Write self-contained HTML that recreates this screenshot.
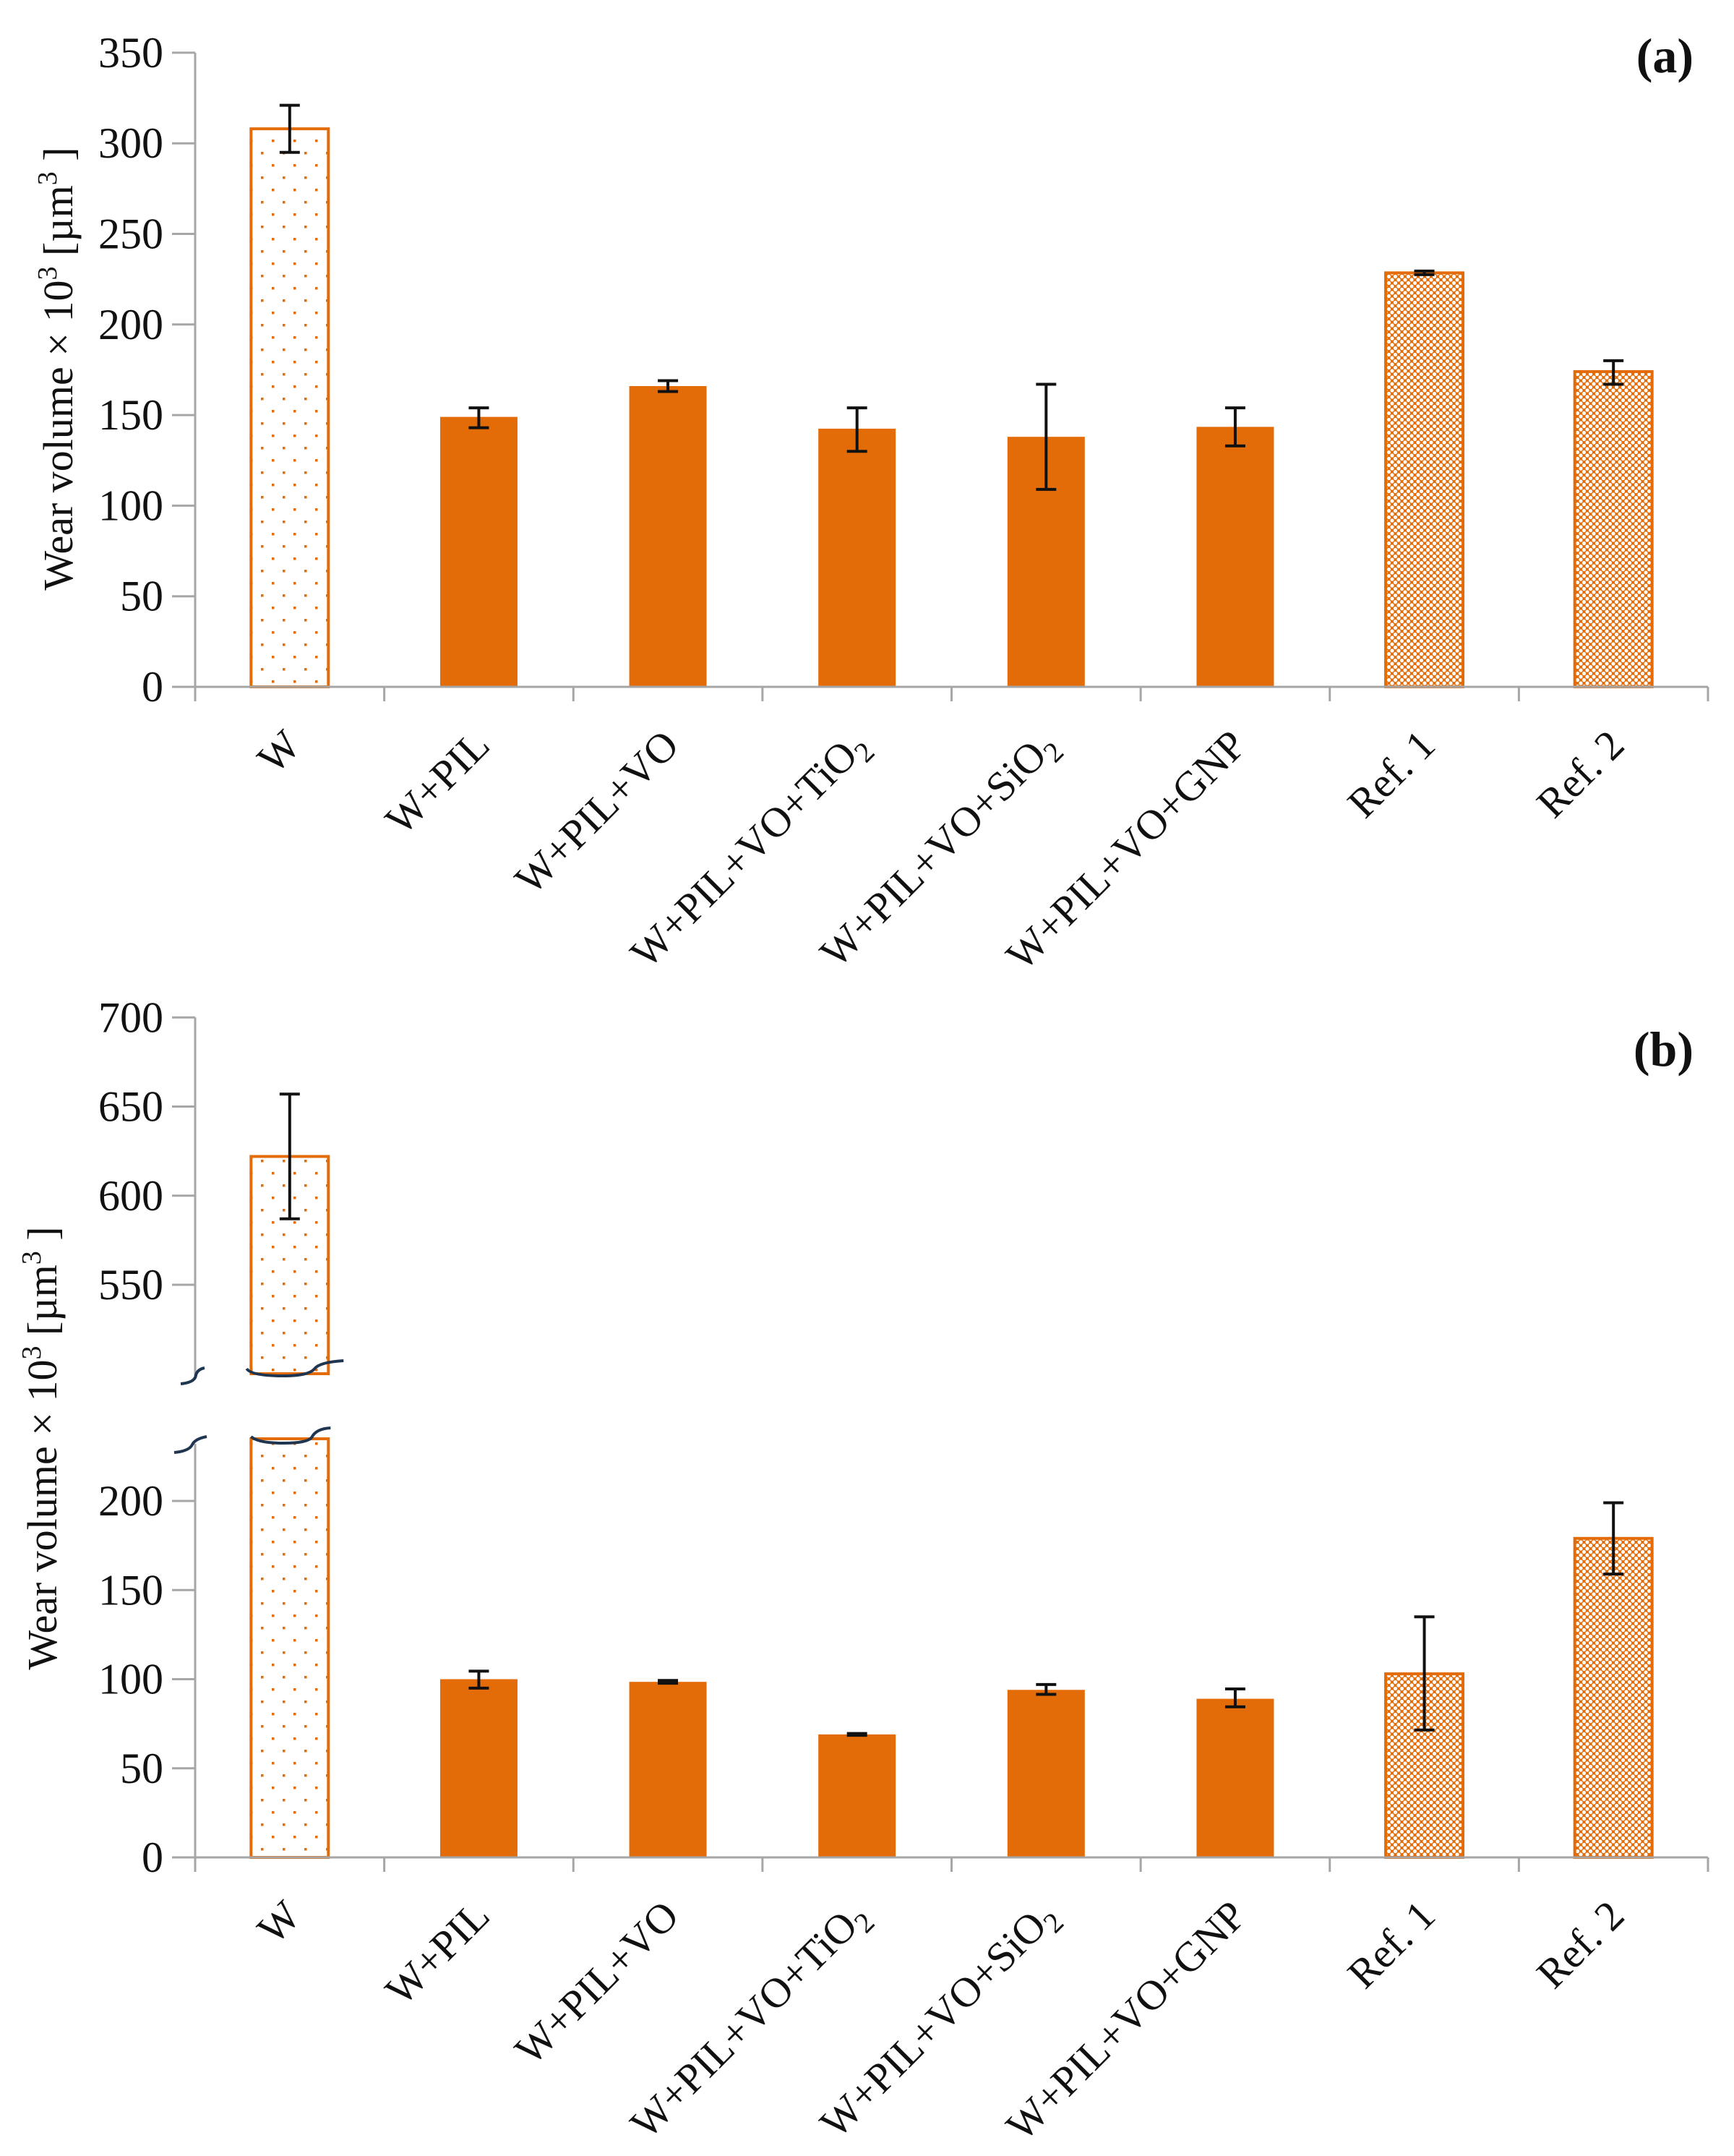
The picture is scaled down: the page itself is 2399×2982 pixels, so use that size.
<!DOCTYPE html>
<html><head><meta charset="utf-8"><style>
html,body{margin:0;padding:0;background:#fff;}
svg{display:block;}
text{font-family:"Liberation Serif",serif;fill:#111;}
</style></head><body>
<svg id="chart" width="2399" height="2982" viewBox="0 0 2399 2982" xmlns="http://www.w3.org/2000/svg">
<defs>
<pattern id="dots" patternUnits="userSpaceOnUse" width="30" height="34" x="355" y="0">
<rect width="30" height="34" fill="#fff"/>
<rect x="6" y="6" width="3.5" height="3.5" fill="#e36c09"/>
<rect x="21" y="23" width="3.5" height="3.5" fill="#e36c09"/>
</pattern>
<pattern id="hatch" patternUnits="userSpaceOnUse" width="9" height="9">
<rect width="9" height="9" fill="#e36c09"/>
<circle cx="0" cy="0" r="2.6" fill="#fff"/>
<circle cx="9" cy="0" r="2.6" fill="#fff"/>
<circle cx="0" cy="9" r="2.6" fill="#fff"/>
<circle cx="9" cy="9" r="2.6" fill="#fff"/>
<circle cx="4.5" cy="4.5" r="2.6" fill="#fff"/>
</pattern>
</defs>
<g id="gA"></g>
<g id="gB"></g>
</svg>
<script>
const categories = ["W","W+PIL","W+PIL+VO","W+PIL+VO+TiO2","W+PIL+VO+SiO2","W+PIL+VO+GNP","Ref. 1","Ref. 2"];
const fills = ["dots","solid","solid","solid","solid","solid","hatch","hatch"];
const valuesA = [308, 149, 166, 142.5, 138, 143.5, 228.5, 174];
const errHiA = [321, 154, 169, 154, 167, 154, 229.5, 180];
const errLoA = [295, 143, 163, 130, 109, 133, 227.5, 167];
const ticksA = [0,50,100,150,200,250,300,350];
const valuesB = [622, 100, 98.5, 69, 94, 89, 103, 179];
const errHiB = [657, 104.5, 99.3, 69.5, 97, 94.5, 135, 199];
const errLoB = [587, 95, 97.7, 68.5, 91.5, 84.5, 71.5, 159];
const ticksBLow = [0,50,100,150,200];
const ticksBHigh = [550,600,650,700];

const NS="http://www.w3.org/2000/svg";
const X0=270, X1=2363, N=categories.length, CW=(X1-X0)/N, BW=107;
function cx(i){return X0+CW*(i+0.5);}
function mk(tag,attrs,parent){const e=document.createElementNS(NS,tag);for(const k in attrs)e.setAttribute(k,attrs[k]);parent.appendChild(e);return e;}
const ORANGE="#e36c09", AX="#a6a6a6";

const yA0=950, kA=2.506;
function yA(v){return yA0-v*kA;}
const yB0=2569, kB=2.465, yB550=1777;
function yB(v){return v<=300 ? yB0-v*kB : yB550-(v-550)*kB;}

function label(g,i,axisY){
  const t=mk('text',{x:cx(i)+18,y:axisY+84,'text-anchor':'end','font-size':'58',transform:`rotate(-45 ${cx(i)+18} ${axisY+84})`},g);
  
  
  const m=categories[i].match(/^(.*O)(2)$/);
  if(m){t.textContent=m[1];const s=mk('tspan',{'font-size':'40',dy:'12'},t);s.textContent=m[2];}
  else t.textContent=categories[i];
}
function bar(g,i,yTop,yBot){
  const f=fills[i];
  const r=mk('rect',{x:cx(i)-BW/2,y:yTop,width:BW,height:yBot-yTop,
    fill:f==='solid'?ORANGE:`url(#${f})`,stroke:ORANGE,'stroke-width':f==='solid'?0:4},g);
  
  
  return r;
}
function err(g,i,yh,yl){
  const e=mk('path',{d:`M${cx(i)-14} ${yh}H${cx(i)+14}M${cx(i)} ${yh}V${yl}M${cx(i)-14} ${yl}H${cx(i)+14}`,stroke:'#111','stroke-width':4,fill:'none'},g);
  
  
}
function tickLabel(g,v,y){
  const t=mk('text',{x:226,y:y+20,'text-anchor':'end','font-size':'60'},g);
  t.textContent=v;
  
  
  mk('line',{x1:238,x2:X0,y1:y,y2:y,stroke:AX,'stroke-width':3},g);
}

const gA=document.getElementById('gA');
ticksA.forEach(v=>tickLabel(gA,v,yA(v)));
for(let i=0;i<N;i++){ bar(gA,i,yA(valuesA[i]),yA0); err(gA,i,yA(errHiA[i]),yA(errLoA[i])); label(gA,i,yA0); }
mk('line',{x1:X0,x2:X0,y1:yA(350),y2:yA0,stroke:AX,'stroke-width':3},gA);
mk('line',{x1:X0,x2:X1,y1:yA0,y2:yA0,stroke:AX,'stroke-width':3},gA);
for(let i=0;i<=N;i++) mk('line',{x1:X0+CW*i,x2:X0+CW*i,y1:yA0,y2:yA0+20,stroke:AX,'stroke-width':3},gA);
let tA=mk('text',{x:0,y:0,'font-size':'58','text-anchor':'middle',transform:'translate(100 510) rotate(-90)'},gA);
tA.innerHTML='Wear volume × 10<tspan font-size="38" dy="-22">3</tspan><tspan dy="22"> [µm</tspan><tspan font-size="38" dy="-22">3</tspan><tspan dy="22"> ]</tspan>';


let la=mk('text',{x:2343,y:100,'text-anchor':'end','font-size':'68','font-weight':'bold'},gA);
la.textContent='(a)';



const gB=document.getElementById('gB');
ticksBLow.forEach(v=>tickLabel(gB,v,yB(v)));
ticksBHigh.forEach(v=>tickLabel(gB,v,yB(v)));
const brkTop=1900, brkBot=1990;
for(let i=0;i<N;i++){
  const yt=yB(valuesB[i]);
  if(valuesB[i]>300){ bar(gB,i,yt,brkTop); bar(gB,i,brkBot,yB0); }
  else bar(gB,i,yt,yB0);
  err(gB,i,yB(errHiB[i]),yB(errLoB[i]));
  label(gB,i,yB0);
}
mk('line',{x1:X0,x2:X0,y1:yB(700),y2:1903,stroke:AX,'stroke-width':3},gB);
mk('line',{x1:X0,x2:X0,y1:1997,y2:yB0,stroke:AX,'stroke-width':3},gB);
mk('line',{x1:X0,x2:X1,y1:yB0,y2:yB0,stroke:AX,'stroke-width':3},gB);
for(let i=0;i<=N;i++) mk('line',{x1:X0+CW*i,x2:X0+CW*i,y1:yB0,y2:yB0+20,stroke:AX,'stroke-width':3},gB);
const bx=cx(0)-BW/2;
let bm=mk('path',{d:`M250 1914 Q270 1912 271 1902 Q273 1894 283 1892
 M241 2009 Q262 2007 266 1998 Q270 1990 286 1987
 M${bx-6} 1893 Q${bx} 1903 ${bx+45} 1903 Q${bx+80} 1903 ${bx+88} 1893 Q${bx+95} 1884 ${bx+128} 1882
 M${bx} 1987 Q${bx+10} 1996 ${bx+45} 1996 Q${bx+78} 1996 ${bx+84} 1988 Q${bx+90} 1976 ${bx+110} 1975`,
 stroke:'#1f3550','stroke-width':4,fill:'none'},gB);


let tB=mk('text',{x:0,y:0,'font-size':'58','text-anchor':'middle',transform:'translate(78 2003) rotate(-90)'},gB);
tB.innerHTML='Wear volume × 10<tspan font-size="38" dy="-22">3</tspan><tspan dy="22"> [µm</tspan><tspan font-size="38" dy="-22">3</tspan><tspan dy="22"> ]</tspan>';


let lb=mk('text',{x:2343,y:1474,'text-anchor':'end','font-size':'68','font-weight':'bold'},gB);
lb.textContent='(b)';


</script>
</body></html>
